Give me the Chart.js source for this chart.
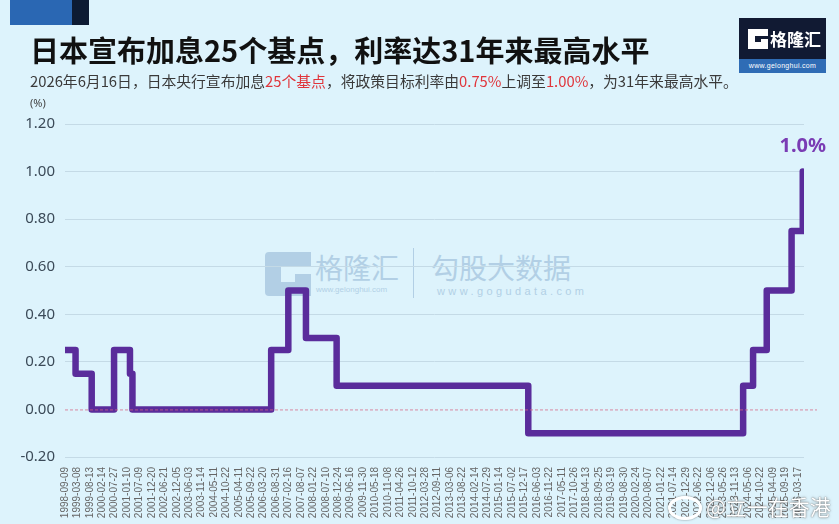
<!DOCTYPE html>
<html><head><meta charset="utf-8">
<script src="https://cdn.jsdelivr.net/npm/chart.js@4.4.1/dist/chart.umd.min.js"></script>
<style>
html,body{margin:0;padding:0;background:#ddf3fc;}
#wrap{position:relative;width:839px;height:524px;overflow:hidden;background:#ddf3fc;font-family:"Noto Sans CJK SC","Noto Sans",sans-serif;}
#c{position:absolute;left:0;top:0;z-index:2;}
.abs{position:absolute;white-space:nowrap;}
#blk1{left:10px;top:0;width:62px;height:25px;background:#2a67b3;}
#blk2{left:72px;top:0;width:17px;height:25px;background:#0d1b33;}
#title{left:30px;top:35px;font-size:29px;line-height:29px;font-weight:700;color:#111;z-index:3;}
#sub{left:30px;top:73px;font-size:14.8px;line-height:15px;color:#3a3a3a;z-index:3;}
#sub .r{color:#e0353b;}
#unit{left:30px;top:97px;font-size:11px;line-height:11px;color:#444;font-family:"Noto Sans",sans-serif;z-index:3;}
#logo{left:739px;top:18px;width:87px;height:55px;background:#111a33;z-index:3;}
#logo .band{position:absolute;left:0;bottom:0;width:87px;height:14px;background:#2f6cb5;color:#fff;font-size:7px;line-height:14px;text-align:center;font-family:"Liberation Sans",sans-serif;letter-spacing:0.3px;}
#logo .txt{position:absolute;left:31px;top:11px;font-size:17px;line-height:19px;color:#fff;font-weight:700;}
#logo svg{position:absolute;left:9px;top:11px;}
#wm{z-index:1;left:265px;top:246px;width:320px;height:56px;opacity:0.55;}
#wm .t1{position:absolute;left:50px;top:7px;font-size:28px;line-height:28px;color:#8fb3d3;}
#wm .u1{position:absolute;left:51px;top:40px;font-size:8px;line-height:8px;color:#8fb3d3;font-family:"Liberation Sans",sans-serif;}
#wm .div{position:absolute;left:148px;top:2px;width:1px;height:50px;background:#8fb3d3;}
#wm .t2{position:absolute;left:166px;top:7px;font-size:28px;line-height:28px;color:#8fb3d3;}
#wm .u2{position:absolute;left:172px;top:40px;font-size:11px;line-height:11px;color:#8fb3d3;letter-spacing:3.4px;font-family:"Liberation Sans",sans-serif;}
#wb{z-index:4;left:706px;top:496px;font-size:21px;line-height:21px;color:#fff;text-shadow:0 0 1px rgba(60,60,60,0.8),0 0 3px rgba(90,90,90,0.6);}
#wbicon{z-index:4;left:668px;top:496px;width:28px;height:18px;border-radius:50%;border:3px solid #fff;box-shadow:0 0 2px rgba(70,70,70,0.7);}
</style></head>
<body>
<div id="wrap">
  <div class="abs" id="blk1"></div><div class="abs" id="blk2"></div>
  <div class="abs" id="title">日本宣布加息25个基点，利率达31年来最高水平</div>
  <div class="abs" id="sub">2026年6月16日，日本央行宣布加息<span class="r">25个基点</span>，将政策目标利率由<span class="r">0.75%</span>上调至<span class="r">1.00%</span>，为31年来最高水平。</div>
  <div class="abs" id="unit">(%)</div>
  <div class="abs" id="logo">
    <svg width="20" height="20" viewBox="0 0 20 20"><path d="M0 0H20V7H7V13H13V10H20V20H0Z" fill="#fff"/></svg>
    <div class="txt">格隆汇</div>
    <div class="band">www.gelonghui.com</div>
  </div>
  <div class="abs" id="wm">
    <svg width="46" height="44" viewBox="0 0 46 44" style="position:absolute;left:0;top:6px"><path d="M4 0H46V14H16V30H30V22H46V44H4Q0 44 0 40V4Q0 0 4 0Z" fill="#8fb3d3"/></svg>
    <div class="t1">格隆汇</div>
    <div class="u1">www.gelonghui.com</div>
    <div class="div"></div>
    <div class="t2">勾股大数据</div>
    <div class="u2">www.gogudata.com</div>
  </div>
  <canvas id="c" width="839" height="524"></canvas>
  <div class="abs" id="wbicon"></div>
  <div class="abs" id="wb">@立一在香港</div>
</div>
<script>
// Tick labels along the x axis (category positions 0..59)
const tickLabels = ["1998-09-09","1999-03-08","1999-08-13","2000-02-14","2000-07-27","2001-01-10","2001-07-09","2001-12-20","2002-06-21","2002-12-05","2003-06-03","2003-11-14","2004-05-11","2004-10-22","2005-04-11","2005-09-22","2006-03-20","2006-08-31","2007-02-16","2007-08-07","2008-01-22","2008-07-10","2008-12-24","2009-06-16","2009-11-30","2010-05-18","2010-11-08","2011-04-26","2011-10-12","2012-03-28","2012-09-11","2013-03-06","2013-08-22","2014-02-14","2014-07-29","2015-01-14","2015-07-02","2015-12-17","2016-06-03","2016-11-22","2017-05-11","2017-10-26","2018-04-13","2018-09-25","2019-03-19","2019-08-30","2020-02-24","2020-08-07","2021-01-22","2021-07-14","2021-12-29","2022-06-22","2022-12-06","2023-05-26","2023-11-13","2024-05-06","2024-10-22","2025-04-09","2025-09-19","2026-03-17"];
// Rate change points: position along the tick-label axis, and new policy rate (%)
const changePos = [0, 0.85, 2.15, 3.95, 5.23, 5.43, 16.6, 17.98, 19.4, 21.87, 37.3, 54.6, 55.4, 56.5, 58.5, 59.4];
const rateValues = [0.25, 0.15, 0, 0.25, 0.15, 0, 0.25, 0.5, 0.3, 0.1, -0.1, 0.1, 0.25, 0.5, 0.75, 1.0];
const yTicks = [-0.2, 0, 0.2, 0.4, 0.6, 0.8, 1.0, 1.2];
const lastLabel = "1.0%";

const points = changePos.map((x, i) => ({x: x, y: rateValues[i]}));

const overlay = {
  id: 'overlay',
  afterDatasetsDraw(chart) {
    const {ctx, chartArea, scales} = chart;
    const y0 = scales.y.getPixelForValue(0);
    ctx.save();
    ctx.strokeStyle = 'rgba(214,100,130,0.75)';
    ctx.lineWidth = 1;
    ctx.setLineDash([3, 2]);
    ctx.beginPath();
    ctx.moveTo(chartArea.left, y0 + 0.5);
    ctx.lineTo(chartArea.right + 13, y0 + 0.5);
    ctx.stroke();
    ctx.setLineDash([]);
    const n = points.length - 1;
    const px = scales.x.getPixelForValue(points[n].x);
    const py = scales.y.getPixelForValue(points[n].y);
    ctx.fillStyle = '#7a3cb4';
    ctx.font = 'bold 20px "Noto Sans", sans-serif';
    ctx.textAlign = 'center';
    ctx.textBaseline = 'middle';
    ctx.fillText(lastLabel, px, py - 25);
    ctx.restore();
  }
};

new Chart(document.getElementById('c'), {
  type: 'line',
  data: {
    datasets: [{
      data: points,
      stepped: 'before',
      borderColor: '#5a2c9b',
      borderWidth: 6.5,
      borderJoinStyle: 'round',
      borderCapStyle: 'round',
      pointRadius: 0,
      fill: false
    }]
  },
  options: {
    responsive: false,
    animation: false,
    devicePixelRatio: 1,
    layout: {padding: {top: 124, right: 35, left: 0, bottom: 0}},
    plugins: {legend: {display: false}, tooltip: {enabled: false}},
    scales: {
      x: {
        type: 'linear',
        min: 0,
        max: 59.5,
        afterBuildTicks: s => { s.ticks = tickLabels.map((_, i) => ({value: i})); },
        afterFit: s => { s.height = 67; },
        grid: {display: false},
        border: {display: false},
        ticks: {
          autoSkip: false,
          maxRotation: 90,
          minRotation: 90,
          padding: 2,
          color: '#666',
          font: {family: '"Liberation Sans", Arial, sans-serif', size: 10},
          callback: v => tickLabels[Math.round(v)] || ''
        }
      },
      y: {
        min: -0.2,
        max: 1.2,
        afterBuildTicks: s => { s.ticks = yTicks.map(v => ({value: v})); },
        afterFit: s => { s.width = 65; },
        border: {display: false},
        grid: {
          drawTicks: false,
          color: c => Math.abs(c.tick.value) < 1e-9 ? 'rgba(0,0,0,0)' : '#c4dae6',
          lineWidth: 1
        },
        ticks: {
          padding: 10,
          color: '#3b4a58',
          font: {family: '"Noto Sans", sans-serif', size: 15},
          callback: v => Number(v).toFixed(2)
        }
      }
    }
  },
  plugins: [overlay]
});
</script>
</body></html>
